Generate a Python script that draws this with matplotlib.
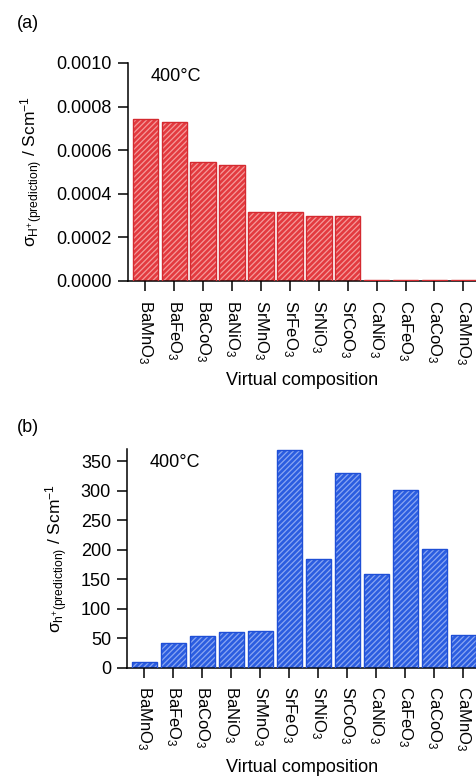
import matplotlib
matplotlib.use("Agg")
import matplotlib.pyplot as plt
import numpy as np

plt.rcParams['font.family'] = ['Liberation Sans', 'DejaVu Sans']
plt.rcParams['mathtext.fontset'] = 'custom'
plt.rcParams['mathtext.rm'] = 'Liberation Sans'
plt.rcParams['mathtext.it'] = 'Liberation Sans:italic'
plt.rcParams['mathtext.sf'] = 'Liberation Sans'
plt.rcParams['hatch.linewidth'] = 0.9

labels_a = ['BaMnO$_3$', 'BaFeO$_3$', 'BaCoO$_3$', 'BaNiO$_3$', 'SrMnO$_3$', 'SrFeO$_3$',
            'SrNiO$_3$', 'SrCoO$_3$', 'CaNiO$_3$', 'CaFeO$_3$', 'CaCoO$_3$', 'CaMnO$_3$']
values_a = [0.000742, 0.000728, 0.000547, 0.000532, 0.000316, 0.000316,
            0.000297, 0.000297, 0.000003, 0.000003, 0.000003, 0.000003]
yticks_a = [0.0, 0.0002, 0.0004, 0.0006, 0.0008, 0.0010]

labels_b = ['BaMnO$_3$', 'BaFeO$_3$', 'BaCoO$_3$', 'BaNiO$_3$', 'SrMnO$_3$', 'SrFeO$_3$',
            'SrNiO$_3$', 'SrCoO$_3$', 'CaNiO$_3$', 'CaFeO$_3$', 'CaCoO$_3$', 'CaMnO$_3$']
values_b = [9, 41, 53, 60, 62, 370, 185, 330, 158, 302, 202, 56]
yticks_b = [0, 50, 100, 150, 200, 250, 300, 350]

W, H = 477, 781
fig = plt.figure(figsize=(W / 100, H / 100), dpi=100)

def px_axes(left, top, right, bottom):
    return fig.add_axes([left / W, 1 - bottom / H, (right - left) / W, (bottom - top) / H])

def draw(ax, labels, values, face, hatchc, edge, ylim, yticks, yfmt, ylabel):
    x = np.arange(len(labels))
    ax.bar(x, values, width=0.88, color=face, edgecolor=hatchc, linewidth=0,
           hatch='//////', zorder=2)
    ax.bar(x, values, width=0.88, fill=False, edgecolor=edge, linewidth=1.0, zorder=3)
    ax.set_xlim(-0.6, 11.47)
    ax.set_ylim(*ylim)
    ax.set_yticks(yticks)
    ax.set_yticklabels([yfmt(v) for v in yticks])
    ax.set_xticks(x)
    ax.set_xticklabels(labels, rotation=270, fontsize=12)
    for s in ['top', 'right']:
        ax.spines[s].set_visible(False)
    for s in ['left', 'bottom']:
        ax.spines[s].set_linewidth(1.1)
    ax.tick_params(axis='both', direction='out', length=7.5, width=1.1, labelsize=13)
    ax.tick_params(axis='x', labelsize=12, pad=6)
    ax.tick_params(axis='y', pad=4)
    ax.set_xlabel('Virtual composition', fontsize=13, labelpad=5)
    ax.set_ylabel(ylabel, fontsize=12.5, labelpad=8)
    ax.text(0.065, 0.975, '400°C', transform=ax.transAxes, fontsize=13, va='top', ha='left')

ax_a = px_axes(128, 63, 477, 281)
draw(ax_a, labels_a, values_a, '#e33a3f', '#f59a9a', '#d42a30', (0, 0.0010), yticks_a,
     lambda v: f'{v:.4f}',
     r'σ$_{\mathrm{H}^{+}\mathrm{(prediction)}}$ / Scm$^{-1}$')

ax_b = px_axes(127, 449, 477, 667.5)
draw(ax_b, labels_b, values_b, '#2b5de0', '#8aa6f2', '#1f4fd6', (0, 371), yticks_b,
     lambda v: f'{v:d}',
     r'σ$_{\mathrm{h}^{+}\mathrm{(prediction)}}$ / Scm$^{-1}$')

fig.text(17 / W, 1 - 23 / H, '(a)', fontsize=13, va='center', ha='left')
fig.text(17 / W, 1 - 428 / H, '(b)', fontsize=13, va='center', ha='left')

fig.savefig('out.png', dpi=100)
